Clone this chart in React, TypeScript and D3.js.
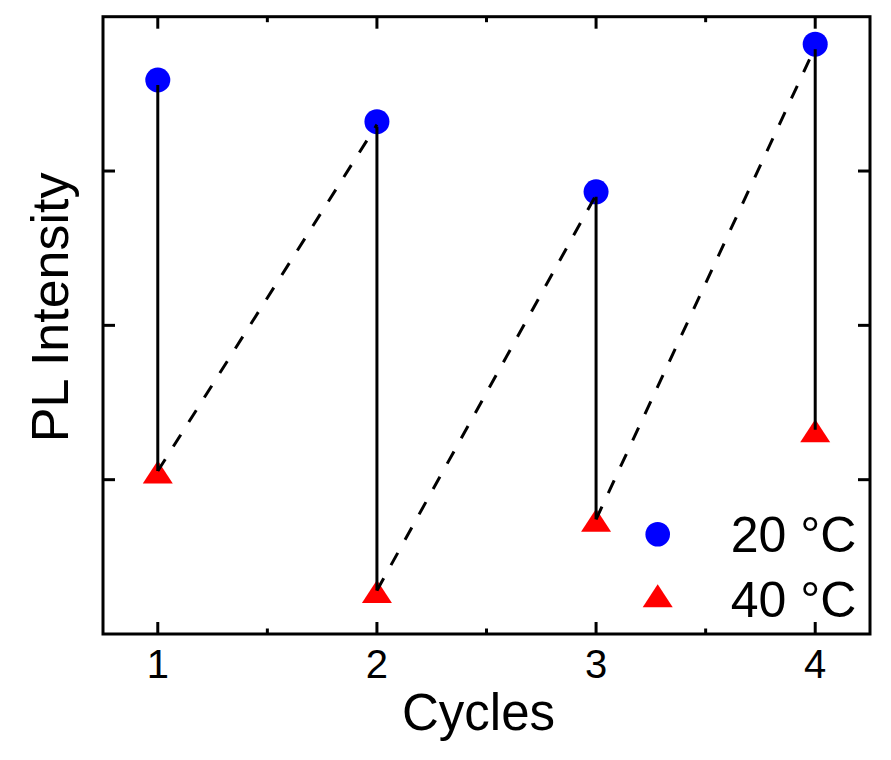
import * as d3 from 'd3';

// cycles on the x axis
const cycles = [1, 2, 3, 4];
// PL intensity (arbitrary units)
const pl20 = [3.59, 3.32, 2.865, 3.822];
const pl40 = [1.043, 0.269, 0.73, 1.311];
const xTicks = [1, 2, 3, 4];
const xMinorTicks = [1.5, 2.5, 3.5];
const yTicks = [1, 2, 3];
const seriesLabels = ['20 °C', '40 °C'];

const W = 891;
const H = 760;
const margin = { top: 16.7, right: 21, bottom: 126, left: 103 };
const FONT = '"Liberation Sans", Arial, sans-serif';
const SW = 3;

function triPath(cx: number, cy: number) {
  return `M${cx},${cy - 12.5}L${cx + 15},${cy + 10.5}L${cx - 15},${cy + 10.5}Z`;
}

export default function App() {
  const iw = W - margin.left - margin.right;
  const ih = H - margin.top - margin.bottom;

  const x = d3.scaleLinear().domain([0.75, 4.25]).range([0, iw]);
  const y = d3.scaleLinear().domain([0, 4]).range([ih, 0]);

  const line = d3.line<[number, number]>().x((d) => d[0]).y((d) => d[1]);

  return (
    <svg
      width={W}
      height={H}
      style={{ position: 'absolute', left: 0, top: 0, background: '#fff' }}
      fontFamily={FONT}
    >
      <g transform={`translate(${margin.left},${margin.top})`}>
        {/* markers */}
        {cycles.map((c, i) => (
          <circle key={'c' + c} cx={x(c)} cy={y(pl20[i])} r={12.5} fill="#0000ff" />
        ))}
        {cycles.map((c, i) => (
          <path key={'t' + c} d={triPath(x(c), y(pl40[i]))} fill="#ff0000" />
        ))}

        {/* vertical drops: 20 °C -> 40 °C */}
        {cycles.map((c, i) => (
          <path
            key={'v' + c}
            d={line([
              [x(c), y(pl20[i]) + 5],
              [x(c), y(pl40[i]) - 2],
            ]) || ''}
            stroke="#000"
            strokeWidth={SW}
            fill="none"
          />
        ))}

        {/* recovery: 40 °C -> next 20 °C */}
        {cycles.slice(0, -1).map((c, i) => (
          <path
            key={'d' + c}
            d={line([
              [x(c), y(pl40[i]) - 2],
              [x(cycles[i + 1]), y(pl20[i + 1]) + 3],
            ]) || ''}
            stroke="#000"
            strokeWidth={SW}
            strokeDasharray="14,15"
            fill="none"
          />
        ))}

        {/* frame */}
        <rect x={0} y={0} width={iw} height={ih} fill="none" stroke="#000" strokeWidth={SW} />

        {/* x ticks, bottom and top, inward */}
        {xTicks.map((t) => (
          <g key={'xt' + t}>
            <line x1={x(t)} x2={x(t)} y1={ih} y2={ih - 12} stroke="#000" strokeWidth={SW} />
            <line x1={x(t)} x2={x(t)} y1={0} y2={12} stroke="#000" strokeWidth={SW} />
            <text x={x(t)} y={ih + 44} textAnchor="middle" fontSize={40} fill="#000">
              {t}
            </text>
          </g>
        ))}
        {xMinorTicks.map((t) => (
          <g key={'xm' + t}>
            <line x1={x(t)} x2={x(t)} y1={ih} y2={ih - 5.5} stroke="#000" strokeWidth={SW} />
            <line x1={x(t)} x2={x(t)} y1={0} y2={5.5} stroke="#000" strokeWidth={SW} />
          </g>
        ))}

        {/* y ticks, left and right, inward, no labels */}
        {yTicks.map((t) => (
          <g key={'yt' + t}>
            <line x1={0} x2={12} y1={y(t)} y2={y(t)} stroke="#000" strokeWidth={SW} />
            <line x1={iw} x2={iw - 12} y1={y(t)} y2={y(t)} stroke="#000" strokeWidth={SW} />
          </g>
        ))}

        {/* axis titles */}
        <text x={iw / 2 - 8} y={ih + 96} textAnchor="middle" fontSize={51} fill="#000">
          Cycles
        </text>
        <text
          transform={`translate(${-35},${ih / 2 - 18}) rotate(-90)`}
          textAnchor="middle"
          fontSize={52}
          fill="#000"
        >
          PL Intensity
        </text>

        {/* legend */}
        <g transform={`translate(${iw - 212.3},${ih - 99.7})`}>
          <circle cx={0} cy={0} r={12.3} fill="#0000ff" />
          <text x={73} y={17.5} fontSize={50} fill="#000">
            {seriesLabels[0]}
          </text>
          <path d={triPath(0, 62.5)} fill="#ff0000" />
          <text x={73} y={82.5} fontSize={50} fill="#000">
            {seriesLabels[1]}
          </text>
        </g>
      </g>
    </svg>
  );
}
